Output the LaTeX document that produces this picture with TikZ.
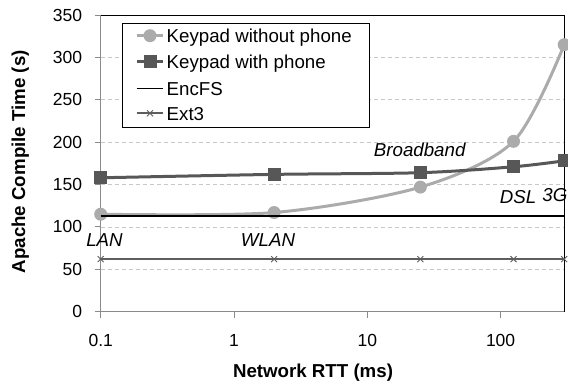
\documentclass[tikz,border=0pt]{standalone}
\usepackage{fontspec}
\setmainfont{Liberation Sans}
\definecolor{lightser}{HTML}{ABABAB}
\definecolor{darkser}{HTML}{575757}
\definecolor{extser}{HTML}{5E5E5E}
\definecolor{gridc}{HTML}{C8C8C8}
\definecolor{axisc}{HTML}{8A8A8A}
\begin{document}
\begin{tikzpicture}[x=1pt,y=-1pt,
  ticklab/.style={font=\fontsize{17.5}{20}\selectfont, inner sep=0pt},
  titlelab/.style={font=\fontsize{18.7}{22}\selectfont\bfseries, inner sep=0pt, anchor=base},
  leglab/.style={font=\fontsize{18.7}{22}\selectfont, inner sep=0pt, anchor=base west},
  netlab/.style={font=\fontsize{18.7}{22}\selectfont\itshape, inner sep=0pt, anchor=base},
  lightline/.style={lightser, line width=3pt},
  darkline/.style={darkser, line width=3pt},
  encline/.style={black, line width=1.5pt},
  extline/.style={extser, line width=1.6pt},
  gridline/.style={gridc, line width=0.8pt, dash pattern=on 4pt off 3pt},
  axisline/.style={axisc, line width=1pt},
  cross/.style={extser, line width=0.9pt}]
\useasboundingbox (0,0) rectangle (568,385);

\begin{scope}[shift={(100.7,311.7)}, x=133.3pt, y=0.8476pt]
  % grid
  \foreach \v in {50,100,...,300}
    \draw[gridline] (0,\v) -- (3.4771,\v);
  % frame
  \draw[black, line width=0.8pt] (0,350) -- (3.4771,350) -- (3.4771,0);
  \draw[axisline] (3.4771,0) -- (0,0) -- (0,350);
  \foreach \v in {0,50,...,350} {
    \draw[axisline] (0,\v) -- ++(-6pt,0);
    \node[ticklab, anchor=east] (yl\v) at ([xshift=-18.4pt]0,\v) {\v};
  }
  \foreach \d/\t in {0/0.1,1/1,2/10,3/100} {
    \draw[axisline] (\d,0) -- ++(0,-6pt);
    \node[ticklab] (xl\d) at ([yshift=-28.5pt]\d,0) {\t};
  }
  % data points
  \coordinate (w1) at (0,115);
  \coordinate (w2) at (1.301,117);
  \coordinate (w3) at (2.398,147);
  \coordinate (w4) at (3.097,201);
  \coordinate (w5) at (3.4771,315);
  \coordinate (p1) at (0,158);
  \coordinate (p2) at (1.301,162);
  \coordinate (p3) at (2.398,164);
  \coordinate (p4) at (3.097,171);
  \coordinate (p5) at (3.4771,178);
  \coordinate (e1) at (0,113);
  \coordinate (e2) at (3.4771,113);
  \coordinate (x1) at (0,62);
  \coordinate (x2) at (1.301,62);
  \coordinate (x3) at (2.398,62);
  \coordinate (x4) at (3.097,62);
  \coordinate (x5) at (3.4771,62);
  % Keypad without phone
  \draw[lightline] plot[smooth, tension=0.5] coordinates {(w1) (w2) (w3) (w4) (w5)};
  \foreach \p in {w1,w2,w3,w4,w5}
    \fill[lightser] (\p) circle (6.5pt);
  % Keypad with phone
  \draw[darkline] plot[smooth, tension=0.5] coordinates {(p1) (p2) (p3) (p4) (p5)};
  \foreach \p in {p1,p2,p3,p4,p5}
    \fill[darkser] ([shift={(-6.5pt,-6.5pt)}]\p) rectangle ([shift={(6.5pt,6.5pt)}]\p);
  % EncFS
  \draw[encline] (e1) -- (e2);
  % Ext3
  \draw[extline] (x1) -- (x2) -- (x3) -- (x4) -- (x5);
  \foreach \p in {x1,x2,x3,x4,x5}
    \draw[cross] ([shift={(-3pt,-3pt)}]\p) -- ([shift={(3pt,3pt)}]\p)
                 ([shift={(-3pt,3pt)}]\p) -- ([shift={(3pt,-3pt)}]\p);
\end{scope}

% network labels
\node[netlab] (lan) at (104.5,246) {LAN};
\node[netlab] (wlan) at (268,246) {WLAN};
\node[netlab] (bb) at (419.7,157) {Broadband};
\node[netlab] (dsl) at (518,203.5) {DSL};
\node[netlab, anchor=base east] (g3) at (567.5,201.5) {3G};

% axis titles
\node[titlelab, rotate=90] (ytitle) at (25,161.7) {Apache Compile Time (s)};
\node[titlelab] (xtitle) at (313,377.7) {Network RTT (ms)};

% legend
\draw[black, line width=0.8pt, fill=white] (122,23) rectangle (369,127);
\coordinate (l1a) at (136.7,35.7); \coordinate (l1b) at (163.3,35.7); \coordinate (l1m) at (150,35.7);
\coordinate (l2a) at (136.7,61.7); \coordinate (l2b) at (163.3,61.7); \coordinate (l2m) at (150,61.7);
\coordinate (l3a) at (136.7,88.3); \coordinate (l3b) at (163.3,88.3);
\coordinate (l4a) at (136.7,113.3); \coordinate (l4b) at (163.3,113.3); \coordinate (l4m) at (150,113.3);
\draw[lightline] (l1a) -- (l1b);
\fill[lightser] (l1m) circle (6.5pt);
\draw[darkline] (l2a) -- (l2b);
\fill[darkser] ([shift={(-6.5pt,-6.5pt)}]l2m) rectangle ([shift={(6.5pt,6.5pt)}]l2m);
\draw[encline] (l3a) -- (l3b);
\draw[extline] (l4a) -- (l4b);
\draw[cross] ([shift={(-3pt,-3pt)}]l4m) -- ([shift={(3pt,3pt)}]l4m)
             ([shift={(-3pt,3pt)}]l4m) -- ([shift={(3pt,-3pt)}]l4m);
\node[leglab] (t1) at (166.5,42.7) {Keypad without phone};
\node[leglab] (t2) at (166.5,68.7) {Keypad with phone};
\node[leglab] (t3) at (166.5,95.3) {EncFS};
\node[leglab] (t4) at (166.5,120.3) {Ext3};
\end{tikzpicture}
\end{document}
